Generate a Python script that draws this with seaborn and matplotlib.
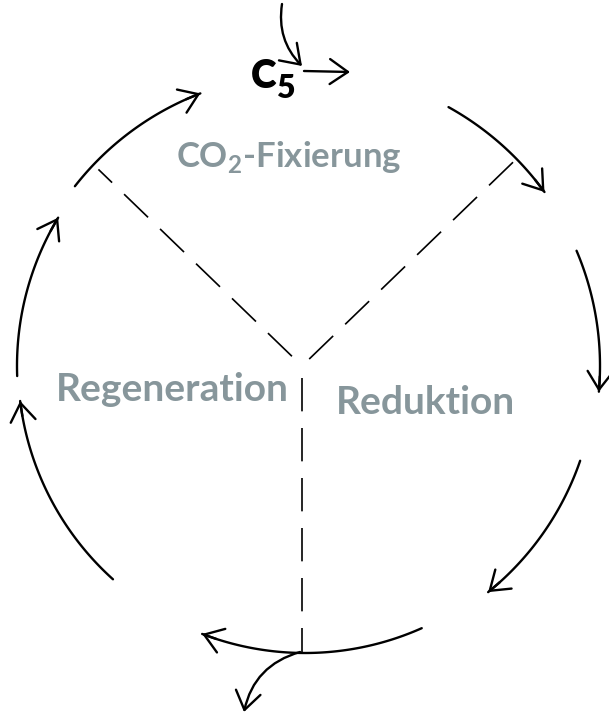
import numpy as np
import pandas as pd
import matplotlib.pyplot as plt
import seaborn as sns

sns.set_style('white')
plt.rcParams['font.family'] = ['Lato', 'DejaVu Sans']
plt.rcParams['mathtext.fontset'] = 'custom'
plt.rcParams['mathtext.rm'] = 'Lato:bold'
plt.rcParams['mathtext.bf'] = 'Lato:bold'

# cycle arcs (degrees, counter-clockwise from 3 o'clock), each drawn clockwise
# with the arrow head at its end
arc_start = [142, 61, 23, -19, -66, -132, 182]
arc_end = [111, 36, -5, -51, -111, -173, 149]
arc_radius = [292, 296, 295, 291, 287, 287, 288]

# dashed spokes from the hub
spoke_angle = [136, 44, -90]
spoke_inner = [14, 10, 12]
spoke_outer = [283, 300, 286]

# phase labels
phase_labels = ['CO$_2$-Fixierung', 'Regeneration', 'Reduktion']
phase_x = [289, 172, 425]
phase_y = [167, 401, 414]
phase_size = [25, 28, 28]

cx, cy = 305, 366
hx, hy = 302, 366
grey = '#87969b'

fig = plt.figure(figsize=(6.09, 7.15), dpi=100)
ax = fig.add_axes([0, 0, 1, 1])

rows = []
for i, (a0, a1, r) in enumerate(zip(arc_start, arc_end, arc_radius)):
    t = np.radians(np.linspace(a0, a1, 80))
    for tt in t:
        rows.append({'seg': i, 'x': cx + r * np.cos(tt), 'y': cy - r * np.sin(tt)})
arcs = pd.DataFrame(rows)
sns.lineplot(data=arcs, x='x', y='y', units='seg', estimator=None, sort=False,
             color='black', lw=1.7, ax=ax)

head = dict(arrowstyle='->,head_length=0.65,head_width=0.45', color='black',
            lw=1.7, shrinkA=0, shrinkB=0, mutation_scale=20)

for a0, a1, r in zip(arc_start, arc_end, arc_radius):
    back = np.radians(a1 + (3 if a1 < a0 else -3))
    end = np.radians(a1)
    ax.annotate('', xy=(cx + r * np.cos(end), cy - r * np.sin(end)),
                xytext=(cx + r * np.cos(back), cy - r * np.sin(back)),
                arrowprops=head)

for ang, r0, r1 in zip(spoke_angle, spoke_inner, spoke_outer):
    t = np.radians(ang)
    ax.plot([hx + r0 * np.cos(t), hx + r1 * np.cos(t)],
            [hy - r0 * np.sin(t), hy - r1 * np.sin(t)],
            color='black', lw=1.2, linestyle=(0, (20, 10)))

# C5 in and out at the top
ax.annotate('', xy=(302, 66), xytext=(282, 4),
            arrowprops=dict(head, connectionstyle='arc3,rad=0.25'))
ax.annotate('', xy=(350, 72), xytext=(304, 71), arrowprops=head)
ax.text(251, 88, 'C', fontsize=28, fontweight='heavy', color='black',
        ha='left', va='baseline')
ax.text(276, 98, '5', fontsize=23, fontweight='heavy', color='black',
        ha='left', va='baseline')

# product leaving at the bottom
ax.annotate('', xy=(244, 712), xytext=(300, 652),
            arrowprops=dict(head, connectionstyle='arc3,rad=0.3'))

for lab, x, y, s in zip(phase_labels, phase_x, phase_y, phase_size):
    ax.text(x, y, lab, fontsize=s, fontweight='bold', color=grey,
            ha='center', va='baseline')

ax.set_xlim(0, 609)
ax.set_ylim(715, 0)
ax.axis('off')

fig.savefig('out.png', dpi=100)
